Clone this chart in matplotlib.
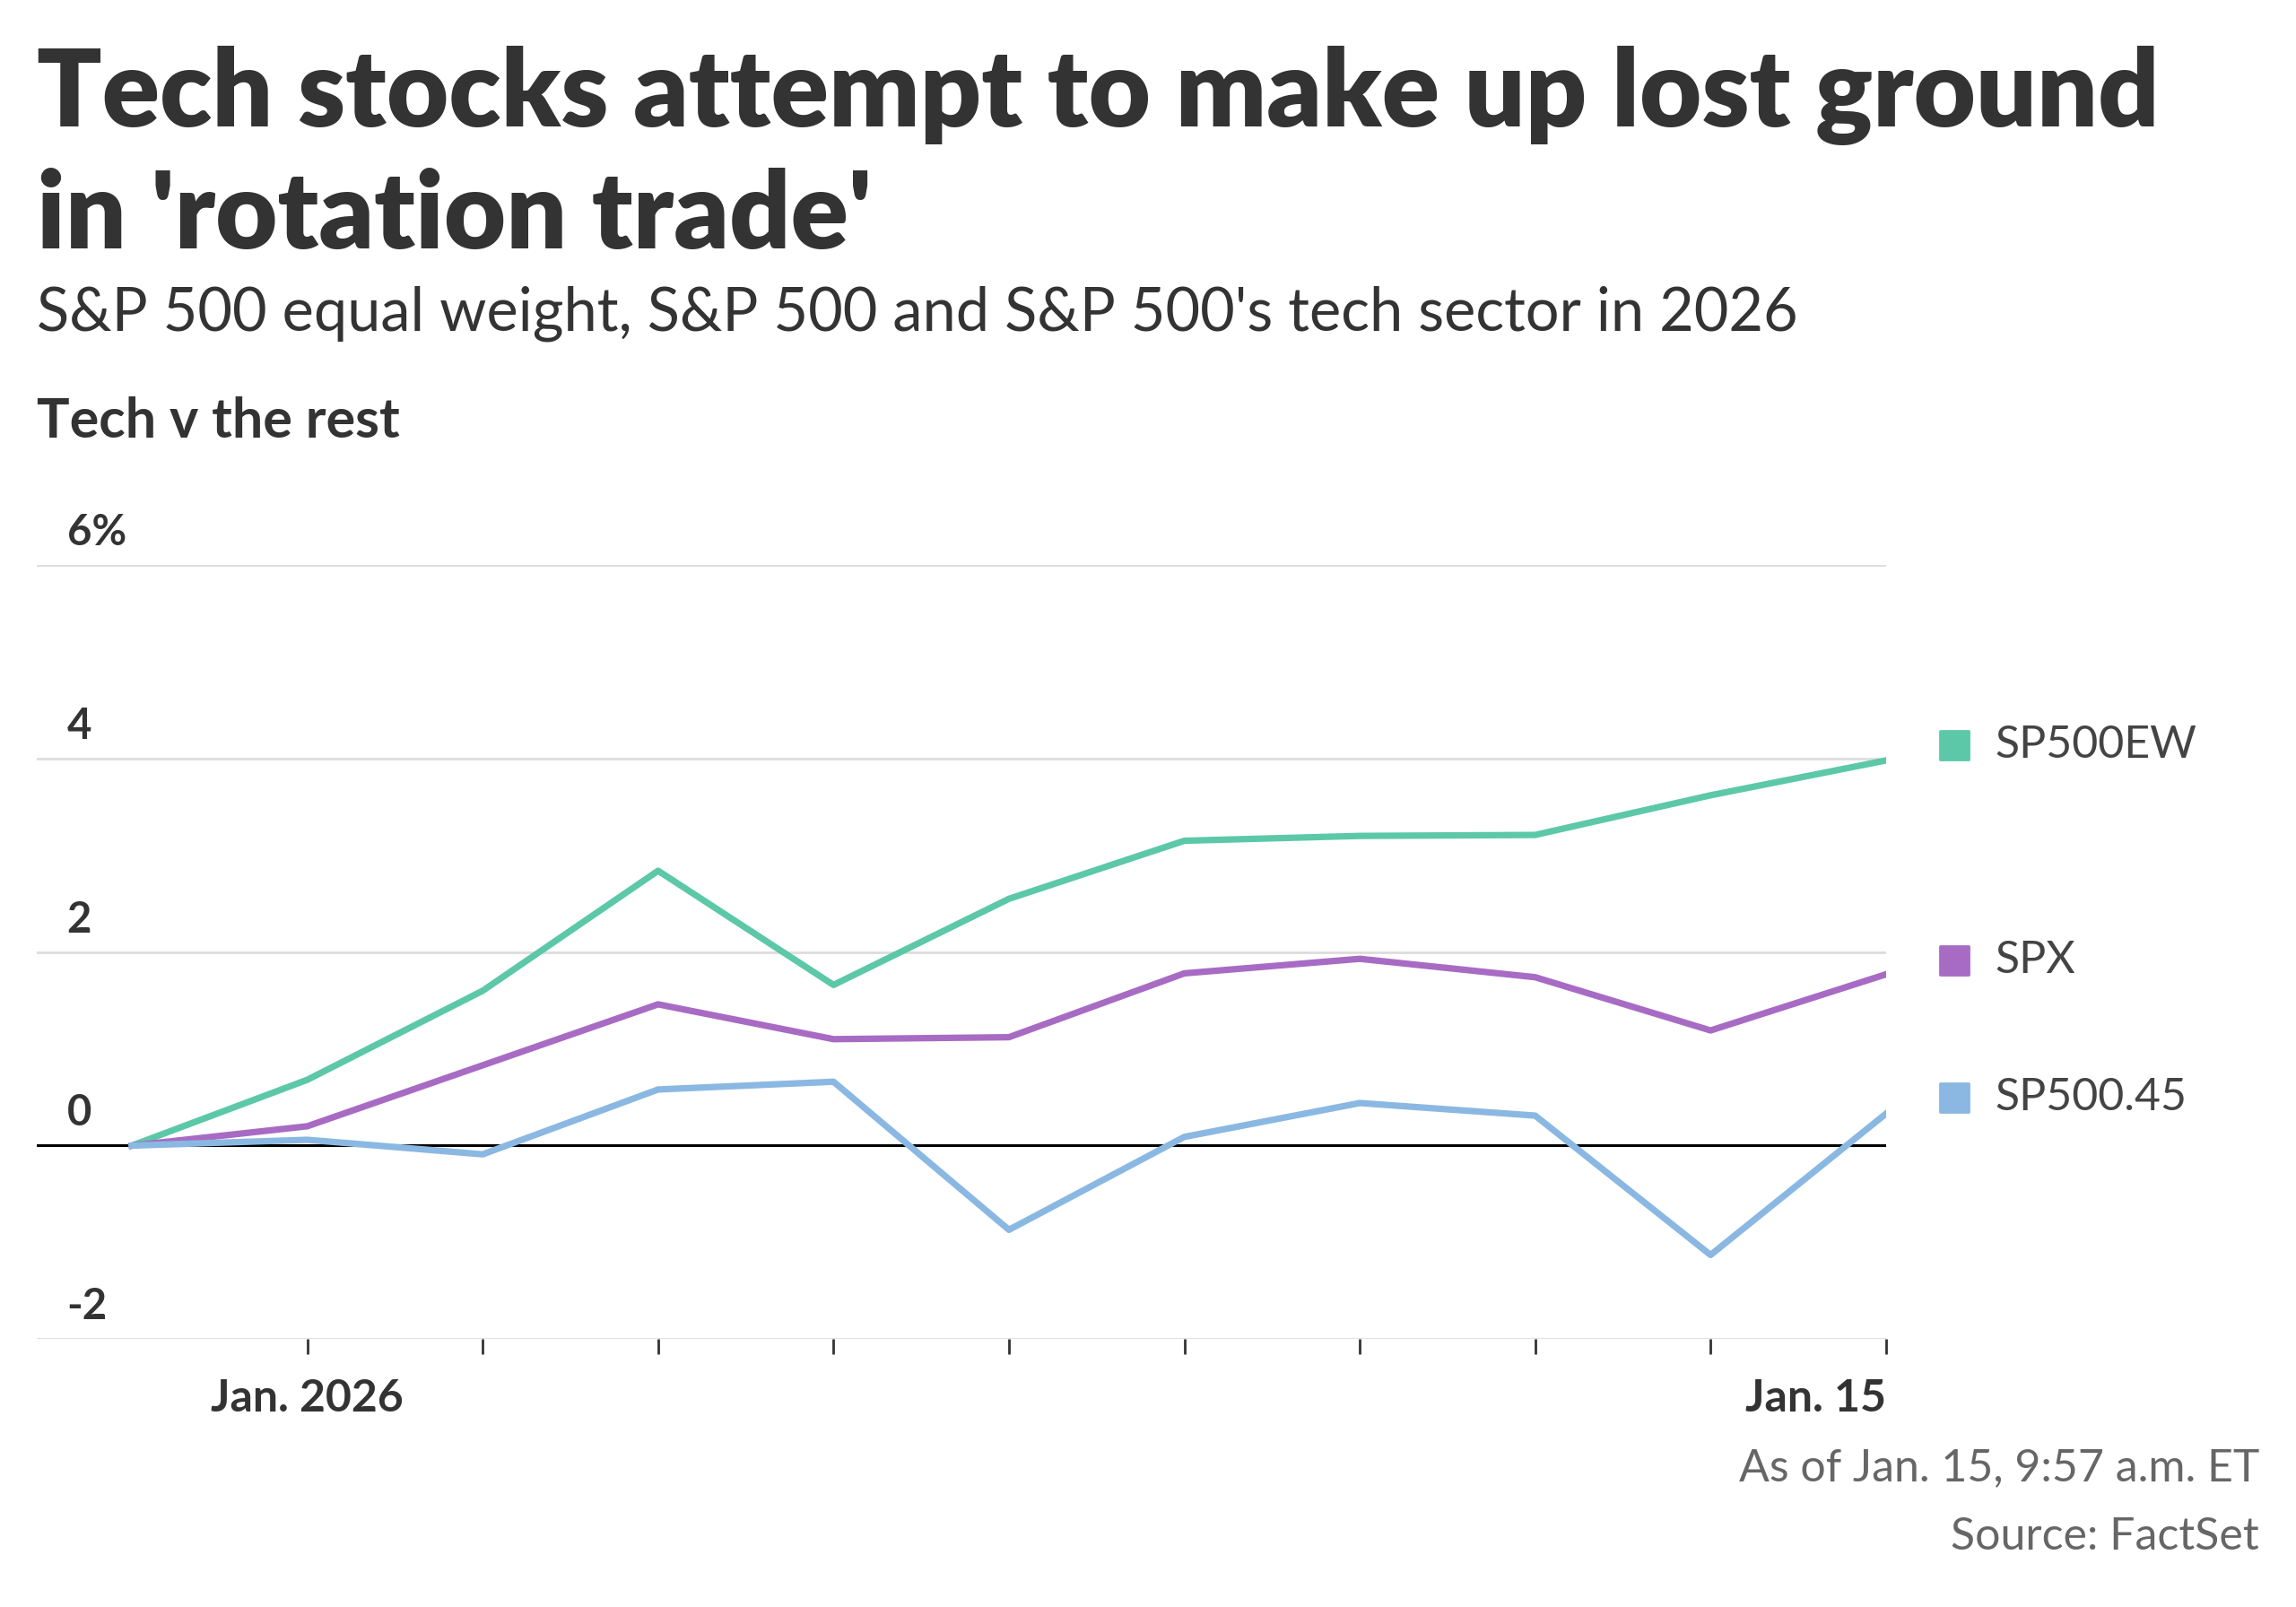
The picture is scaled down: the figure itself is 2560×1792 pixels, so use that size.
import matplotlib
matplotlib.use("Agg")
import matplotlib.pyplot as plt

x = list(range(11))
sp500ew = [0, 0.68, 1.6, 2.84, 1.66, 2.55, 3.15, 3.2, 3.21, 3.62, 3.98]
spx = [0, 0.2, 0.83, 1.46, 1.1, 1.12, 1.78, 1.93, 1.74, 1.19, 1.77]
sp45 = [0, 0.06, -0.09, 0.58, 0.66, -0.87, 0.09, 0.44, 0.31, -1.13, 0.33]
names = ["SP500EW", "SPX", "SP500.45"]
legend_y = [4.14, 1.91, 0.5]
colors = ["#5cc8a8", "#a86bc4", "#8ab8e2"]
yticks = [-2, 0, 2, 4, 6]
ylabels = ["-2", "0", "2", "4", "6%"]

plt.rcParams['font.family'] = ['Lato', 'DejaVu Sans']
fig = plt.figure(figsize=(12.8, 8.96), dpi=200)
W, H = 1568, 1098
ax = fig.add_axes([25/W, 1-915/H, (1288-25)/W, (915-386)/H])
ax.set_xlim(-0.543, 10)
ax.set_ylim(-2, 6)
for s in ax.spines.values():
    s.set_visible(False)
for yv, lab in zip(yticks, ylabels):
    ax.axhline(yv, color="#dddddd" if yv != 0 else "black", lw=1.0 if yv != 0 else 1.1, zorder=1)
    ax.text(-0.37, yv + 0.13, lab, fontsize=17, fontweight='bold', color="#333333", ha='left', va='bottom')
ax.set_yticks([])
for i, (s, c) in enumerate(zip([sp500ew, spx, sp45], colors)):
    ax.plot(x, s, color=c, lw=2.6, zorder=3)
    ax.scatter([10.39], [legend_y[i]], marker='s', s=130, color=c, clip_on=False)
    ax.text(10.62, legend_y[i], names[i], fontsize=18, color="#444444", va='center', ha='left')
ax.set_xticks(range(1, 11))
ax.set_xticklabels([""] * 10)
ax.tick_params(axis='x', length=6, width=1, color="#333333", direction='out')
ax.text(1, -2.4, "Jan. 2026", fontsize=18, fontweight='bold', color="#333333", ha='center', va='top')
ax.text(10, -2.4, "Jan. 15", fontsize=18, fontweight='bold', color="#333333", ha='right', va='top')

fig.text(25/W, 1-65/H, "Tech stocks attempt to make up lost ground", fontsize=43,
         fontweight='heavy', color="#333333", va='center', ha='left')
fig.text(25/W, 1-148/H, "in 'rotation trade'", fontsize=43,
         fontweight='heavy', color="#333333", va='center', ha='left')
fig.text(25/W, 1-214/H, "S&P 500 equal weight, S&P 500 and S&P 500's tech sector in 2026", fontsize=24,
         color="#333333", va='center', ha='left')
fig.text(25/W, 1-288/H, "Tech v the rest", fontsize=22, fontweight='bold', color="#333333", va='center', ha='left')
fig.text(1543/W, 1-1003/H, "As of Jan. 15, 9:57 a.m. ET", fontsize=18, color="#666666", ha='right', va='center')
fig.text(1543/W, 1-1050/H, "Source: FactSet", fontsize=18, color="#666666", ha='right', va='center')
fig.savefig("out.png", dpi=200, facecolor='white')
